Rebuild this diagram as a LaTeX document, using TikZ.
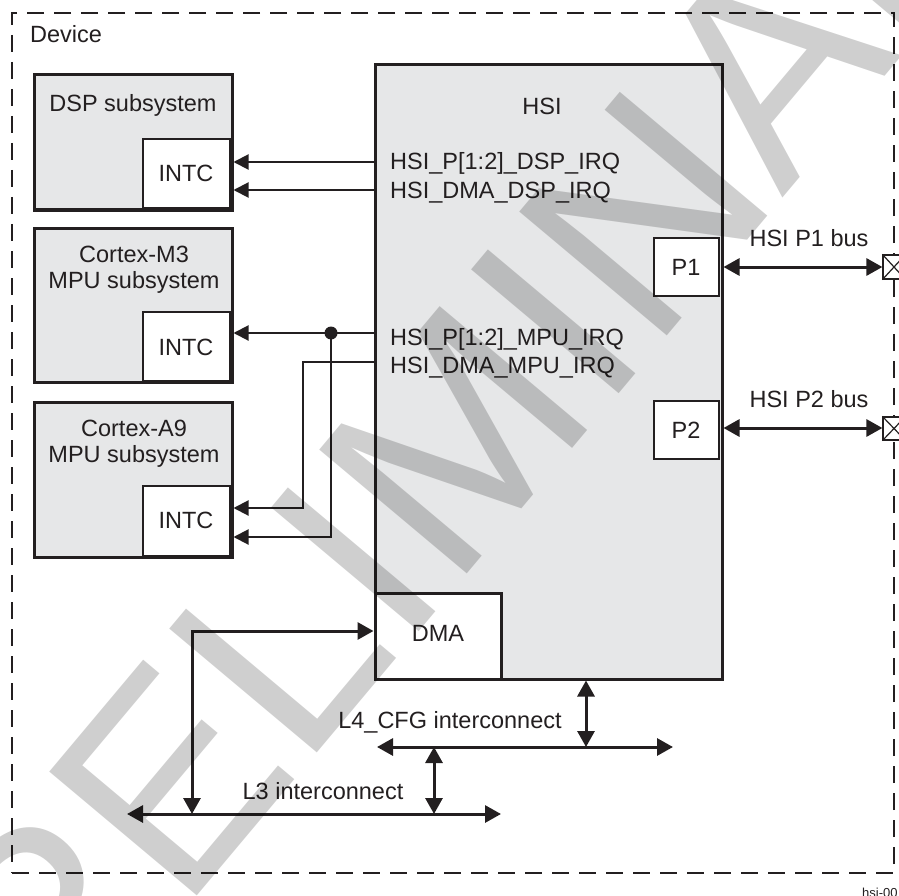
\documentclass[tikz,border=0pt]{standalone}
\usepackage{fontspec}
\setmainfont{Liberation Sans}
\usetikzlibrary{arrows.meta}
\definecolor{boxgray}{RGB}{230,231,232}
\definecolor{ink}{RGB}{35,31,32}
\begin{document}
\begin{tikzpicture}[x=1pt,y=-1pt,
  devbox/.style={draw=ink, line width=2.2pt, dash pattern=on 17pt off 10pt, inner sep=0pt, outer sep=0pt},
  subbox/.style={draw=ink, line width=3pt, fill=boxgray, inner sep=0pt},
  intcbox/.style={draw=ink, line width=2pt, fill=white, inner sep=0pt},
  thickwhite/.style={draw=ink, line width=3pt, fill=white, inner sep=0pt},
  pinbox/.style={draw=ink, line width=1.2pt, fill=white, inner sep=0pt},
  irq/.style={draw=ink, line width=2pt, -{Triangle[length=15pt,width=15pt]}},
  bus/.style={draw=ink, line width=3pt, {Triangle[length=16pt,width=17pt]}-{Triangle[length=16pt,width=17pt]}},
  lbl/.style={inner sep=0pt, text=ink, font=\fontsize{23.5}{28}\selectfont},
  small/.style={inner sep=0pt, text=ink, font=\fontsize{13}{15}\selectfont},
  wm/.style={inner sep=0pt, text=black, text opacity=0.19, font=\fontsize{280}{280}\selectfont}
]
\useasboundingbox (0,0) rectangle (899,896);
\clip (0,0) rectangle (899,896);

% device border
\node[devbox, minimum width=882pt, minimum height=860pt] (device) at (453,443) {};
\node[lbl, anchor=base west] (devt) at (30,43) {Device};

% subsystems
\node[subbox, minimum width=198pt, minimum height=135pt] (dsp) at (133,142.5) {};
\node[intcbox, minimum width=87pt, minimum height=69pt] (dspintc) at (186.5,173.5) {};
\node[lbl, anchor=base] (dspt) at (133,112) {DSP subsystem};
\node[lbl, anchor=base] (dspit) at (186,182) {INTC};

\node[subbox, minimum width=198pt, minimum height=154pt] (m3) at (133,305) {};
\node[intcbox, minimum width=87pt, minimum height=69pt] (m3intc) at (186.5,346.5) {};
\node[lbl, anchor=base] (m3t1) at (134,262) {Cortex-M3};
\node[lbl, anchor=base] (m3t2) at (134,288) {MPU subsystem};
\node[lbl, anchor=base] (m3it) at (186,355) {INTC};

\node[subbox, minimum width=198pt, minimum height=155pt] (a9) at (133,479.5) {};
\node[intcbox, minimum width=87pt, minimum height=70pt] (a9intc) at (186.5,521) {};
\node[lbl, anchor=base] (a9t1) at (134,436) {Cortex-A9};
\node[lbl, anchor=base] (a9t2) at (134,462) {MPU subsystem};
\node[lbl, anchor=base] (a9it) at (186,528) {INTC};

% HSI
\node[subbox, minimum width=347pt, minimum height=614pt] (hsi) at (548.5,372) {};
\node[lbl, anchor=base] (hsit) at (542,115) {HSI};
\node[intcbox, minimum width=65pt, minimum height=58pt] (p1) at (686.5,267) {};
\node[lbl, anchor=base] (p1t) at (686,275) {P1};
\node[intcbox, minimum width=65pt, minimum height=58pt] (p2) at (686.5,430) {};
\node[lbl, anchor=base] (p2t) at (686,438) {P2};
\node[thickwhite, minimum width=126pt, minimum height=86pt] (dma) at (438,636) {};
\node[lbl, anchor=base] (dmat) at (438,641) {DMA};

\node[lbl, anchor=base west] (s1) at (390,170) {HSI\_P[1:2]\_DSP\_IRQ};
\node[lbl, anchor=base west] (s2) at (390,198) {HSI\_DMA\_DSP\_IRQ};
\node[lbl, anchor=base west] (s3) at (390,345) {HSI\_P[1:2]\_MPU\_IRQ};
\node[lbl, anchor=base west] (s4) at (390,373) {HSI\_DMA\_MPU\_IRQ};

% pins
\node[pinbox, minimum width=22pt, minimum height=24pt] (t1) at (894,267) {};
\draw[ink, line width=1.2pt] (t1.north west) -- (t1.south east) (t1.south west) -- (t1.north east);
\node[pinbox, minimum width=22pt, minimum height=23pt] (t2) at (894,428.5) {};
\draw[ink, line width=1.2pt] (t2.north west) -- (t2.south east) (t2.south west) -- (t2.north east);
\node[lbl, anchor=base] (b1t) at (809,246) {HSI P1 bus};
\node[lbl, anchor=base] (b2t) at (809,407) {HSI P2 bus};

% IRQ connectors
\coordinate (r1) at (375,162);
\coordinate (r2) at (375,190);
\coordinate (r3) at (375,333);
\coordinate (r4) at (375,362);
\coordinate (j1) at (331,333);
\coordinate (k1) at (303,362);
\coordinate (ya) at (0,508);
\coordinate (yb) at (0,537);
\draw[irq] (r1) -- (r1 -| dsp.east);
\draw[irq] (r2) -- (r2 -| dsp.east);
\draw[irq] (r3) -- (r3 -| m3.east);
\draw[irq] (j1) -- (j1 |- yb) -- (yb -| a9.east);
\draw[irq] (r4) -- (k1) -- (k1 |- ya) -- (ya -| a9.east);
\fill[ink] (j1) circle (6.5pt);

% buses
\draw[bus] (hsi.east |- p1.center) -- (t1.west |- p1.center);
\draw[bus] (hsi.east |- 0,428) -- (t2.west |- 0,428);

\coordinate (l4w) at (377,747);
\coordinate (l4e) at (673,747);
\coordinate (l4a) at (586,747);
\coordinate (l4b) at (434,747);
\coordinate (l3w) at (127,814);
\coordinate (l3e) at (501,814);
\coordinate (l3b) at (434,814);
\coordinate (l3a) at (192,814);
\coordinate (dy) at (0,631);
\draw[bus] (l4w) -- (l4e);
\draw[bus] (l3w) -- (l3e);
\draw[bus] (l4a |- hsi.south) -- (l4a);
\draw[bus] (l4b) -- (l3b);
\draw[bus] (l3a) |- (dma.west |- dy);
\node[lbl, anchor=base] (l4t) at (450,728) {L4\_CFG interconnect};
\node[lbl, anchor=base] (l3t) at (323,799) {L3 interconnect};

\node[small, anchor=base west] (fig) at (862,897) {hsi-00};

% watermark
\node[wm, rotate=50, anchor=base west] (wmark) at (-68,1212) {PRELIMINARY};
\end{tikzpicture}
\end{document}
